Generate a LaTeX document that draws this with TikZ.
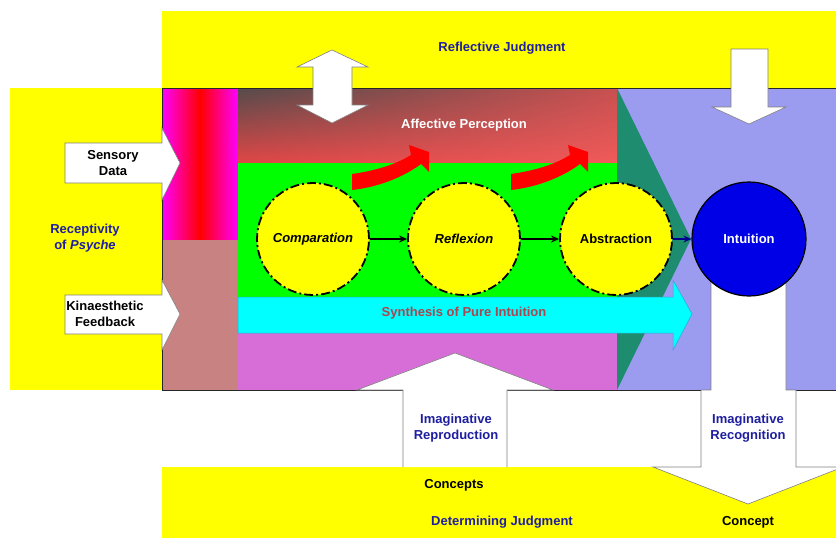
\documentclass[tikz,border=0pt]{standalone}
\usepackage{fontspec}
\setmainfont{Liberation Sans}
\usetikzlibrary{arrows.meta,shadings}
\definecolor{bandyellow}{RGB}{255,255,0}
\definecolor{stagegreen}{RGB}{0,255,0}
\definecolor{synthcyan}{RGB}{0,255,255}
\definecolor{stripmag}{RGB}{255,0,255}
\definecolor{stripred}{RGB}{255,0,0}
\definecolor{navytxt}{RGB}{30,30,160}
\definecolor{synthtxt}{RGB}{170,70,80}
\definecolor{bluereg}{RGB}{155,155,240}
\definecolor{tealreg}{RGB}{30,140,110}
\definecolor{pinkreg}{RGB}{215,110,215}
\definecolor{rosyreg}{RGB}{200,130,130}
\definecolor{intublue}{RGB}{0,0,230}
\definecolor{affUL}{RGB}{85,75,75}
\definecolor{affUR}{RGB}{200,80,80}
\definecolor{affLL}{RGB}{225,70,70}
\definecolor{affLR}{RGB}{240,90,90}
\definecolor{cyanedge}{RGB}{40,170,210}
\definecolor{darkflow}{RGB}{0,0,140}
\begin{document}
\begin{tikzpicture}[x=1pt,y=-1pt,
	lbl/.style={font=\fontsize{13}{16}\selectfont\bfseries,align=center,inner sep=0pt},
	blockarrow/.style={fill=white,draw=gray,line width=0.6pt},
	stage/.style={circle,fill=bandyellow,draw=black,line width=1.8pt,
		dash pattern=on 9pt off 3pt on 2pt off 3pt,minimum size=112pt,inner sep=0pt},
	flow/.style={-{Stealth[length=8pt,width=7pt]},line width=1.6pt}]
	\useasboundingbox (0,0) rectangle (836,538);
	% bands
	\fill[bandyellow] (162,11) rectangle (836,88);
	\fill[bandyellow] (10,88) rectangle (162,390);
	\fill[bandyellow] (162,467) rectangle (836,538);
	% middle field
	\shade[left color=stripmag,right color=stripred] (162,88) rectangle (200,240);
	\shade[left color=stripred,right color=stripmag] (200,88) rectangle (238,240);
	\fill[rosyreg] (162,240) rectangle (238,390);
	\shade[upper left=affUL,upper right=affUR,lower left=affLL,lower right=affLR]
		(238,88) rectangle (617,163);
	\fill[stagegreen] (238,163) rectangle (617,297);
	\fill[pinkreg] (238,333) rectangle (617,390);
	\fill[bluereg] (617,88) rectangle (836,390);
	\fill[tealreg] (617,88) -- (691,239) -- (617,390) -- cycle;
	\filldraw[fill=synthcyan,draw=cyanedge,line width=0.5pt]
		(238,297) -- (673,297) -- (673,280) -- (692,314) -- (673,350) -- (673,333) -- (238,333) -- cycle;
	\draw[black!85,line width=0.9pt] (162,88) rectangle (836,390);
	% red curved arrows
	\foreach \dx in {0,159}
	\fill[stripred,shift={(\dx,0)}] (352,174) .. controls (380,170) and (398,163) .. (411,155) -- (409,145)
		-- (429,152) -- (429,172) -- (421,164) .. controls (405,176) and (380,187) .. (352,190) -- cycle;
	% white block arrows
	\draw[blockarrow] (65,143) -- (162,143) -- (162,128) -- (180,163) -- (162,200) -- (162,183) -- (65,183) -- cycle;
	\draw[blockarrow] (65,295) -- (162,295) -- (162,280) -- (180,314) -- (162,350) -- (162,334) -- (65,334) -- cycle;
	\draw[blockarrow] (332,50) -- (368,67) -- (352,67) -- (352,105) -- (368,105) -- (332,123)
		-- (297,105) -- (313,105) -- (313,67) -- (297,67) -- cycle;
	\draw[blockarrow] (731,49) -- (768,49) -- (768,107) -- (786,107) -- (749,124) -- (712,107) -- (731,107) -- cycle;
	\fill[white] (403,467) -- (403,390) -- (357,390) -- (455,353) -- (553,390) -- (507,390) -- (507,467) -- cycle;
	\draw[gray,line width=0.6pt] (403,467) -- (403,390) -- (357,390) -- (455,353) -- (553,390) -- (507,390) -- (507,467);
	\fill[white] (711,280) -- (711,390) -- (701,390) -- (701,467) -- (653,467) -- (748,504) -- (843,467)
		-- (796,467) -- (796,390) -- (786,390) -- (786,280) -- cycle;
	\draw[gray,line width=0.6pt] (711,280) -- (711,390) -- (701,390) -- (701,467) -- (653,467) -- (748,504) -- (843,467)
		-- (796,467) -- (796,390) -- (786,390) -- (786,280);
	% stages
	\node[stage] (comp) at (313,239) {};
	\node[stage] (refl) at (464,239) {};
	\node[stage] (abst) at (616,239) {};
	\node[circle,fill=intublue,draw=black,line width=1.2pt,minimum size=114pt,inner sep=0pt] (intu) at (749,239) {};
	\draw[flow] (comp) -- (refl);
	\draw[flow] (refl) -- (abst);
	\draw[flow,darkflow] (abst) -- (intu);
	% labels
	\node[lbl] (ltComp) at (comp) {\itshape Comparation};
	\node[lbl] (ltRefl) at (refl) {\itshape Reflexion};
	\node[lbl] (ltAbst) at (abst) {Abstraction};
	\node[lbl,white] (ltIntu) at (intu) {Intuition};
	\node[lbl,navytxt] (refjud) at (502,48) {Reflective Judgment};
	\node[lbl,white] (affper) at (464,125) {Affective Perception};
	\node[lbl] (sens) at (113,163) {Sensory\\Data};
	\node[lbl,navytxt] (recep) at (85,238) {Receptivity\\of \textit{Psyche}};
	\node[lbl] (kina) at (105,314) {Kinaesthetic\\Feedback};
	\node[lbl,synthtxt] (synth) at (464,313) {Synthesis of Pure Intuition};
	\node[lbl,navytxt] (imrep) at (456,428) {Imaginative\\Reproduction};
	\node[lbl,navytxt] (imrec) at (748,428) {Imaginative\\Recognition};
	\node[lbl] (concs) at (454,485) {Concepts};
	\node[lbl,navytxt] (detjud) at (502,522) {Determining Judgment};
	\node[lbl] (conc) at (748,522) {Concept};
\end{tikzpicture}
\end{document}
